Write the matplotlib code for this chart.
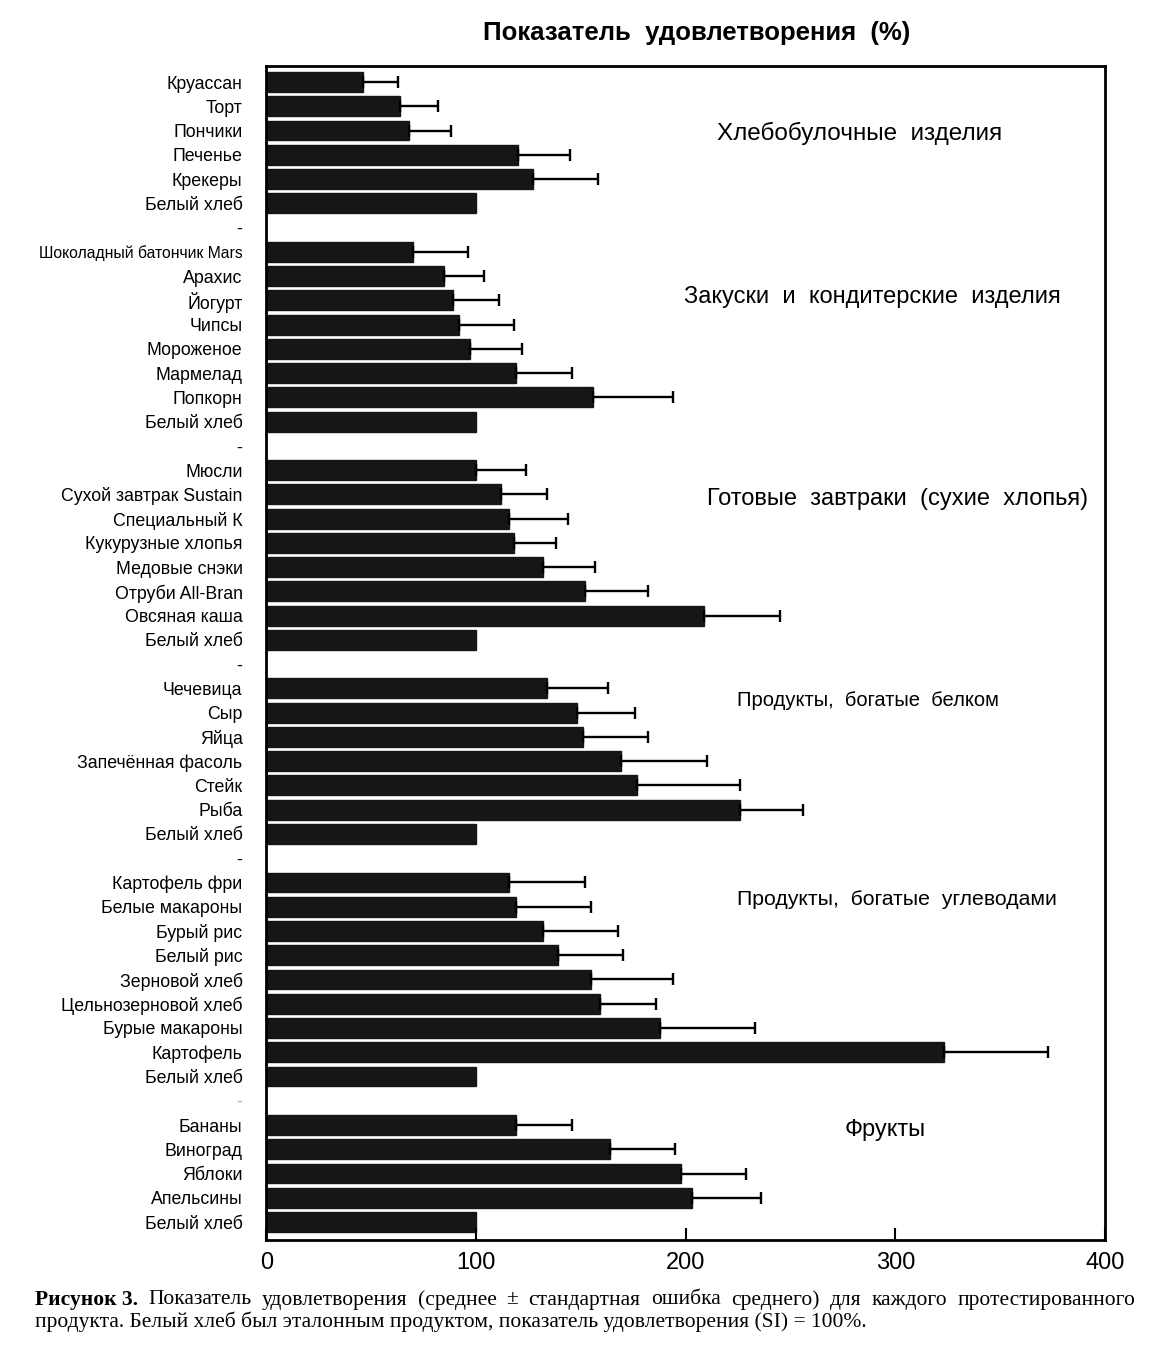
import matplotlib
matplotlib.use("Agg")
import matplotlib.pyplot as plt
import numpy as np

plt.rcParams['font.family'] = ['Liberation Sans', 'DejaVu Sans']

# --- data ---
bakery_labels = ["Круассан", "Торт", "Пончики", "Печенье", "Крекеры", "Белый хлеб"]
bakery_si = [46, 64, 68, 120, 127, 100]
bakery_err = [17, 18, 20, 25, 31, 0]

snack_labels = ["Шоколадный батончик Mars", "Арахис", "Йогурт", "Чипсы",
                "Мороженое", "Мармелад", "Попкорн", "Белый хлеб"]
snack_si = [70, 85, 89, 92, 97, 119, 156, 100]
snack_err = [26, 19, 22, 26, 25, 27, 38, 0]

cereal_labels = ["Мюсли", "Сухой завтрак Sustain", "Специальный К", "Кукурузные хлопья",
                 "Медовые снэки", "Отруби All-Bran", "Овсяная каша", "Белый хлеб"]
cereal_si = [100, 112, 116, 118, 132, 152, 209, 100]
cereal_err = [24, 22, 28, 20, 25, 30, 36, 0]

protein_labels = ["Чечевица", "Сыр", "Яйца", "Запечённая фасоль", "Стейк", "Рыба", "Белый хлеб"]
protein_si = [134, 148, 151, 169, 177, 226, 100]
protein_err = [29, 28, 31, 41, 49, 30, 0]

carb_labels = ["Картофель фри", "Белые макароны", "Бурый рис", "Белый рис", "Зерновой хлеб",
               "Цельнозерновой хлеб", "Бурые макароны", "Картофель", "Белый хлеб"]
carb_si = [116, 119, 132, 139, 155, 159, 188, 323, 100]
carb_err = [36, 36, 36, 31, 39, 27, 45, 50, 0]

fruit_labels = ["Бананы", "Виноград", "Яблоки", "Апельсины", "Белый хлеб"]
fruit_si = [119, 164, 198, 203, 100]
fruit_err = [27, 31, 31, 33, 0]

group_titles = ["Хлебобулочные  изделия", "Закуски  и  кондитерские  изделия",
                "Готовые  завтраки  (сухие  хлопья)", "Продукты,  богатые  белком",
                "Продукты,  богатые  углеводами", "Фрукты"]

groups = [(bakery_labels, bakery_si, bakery_err),
          (snack_labels, snack_si, snack_err),
          (cereal_labels, cereal_si, cereal_err),
          (protein_labels, protein_si, protein_err),
          (carb_labels, carb_si, carb_err),
          (fruit_labels, fruit_si, fruit_err)]

# build rows, with a "-" spacer row between groups
labels, vals, errs, rows = [], [], [], []
sep_rows = []
title_rows = []
r = 0
for gi, (lab, v, e) in enumerate(groups):
    title_rows.append(r)
    for l, vv, ee in zip(lab, v, e):
        labels.append(l)
        vals.append(vv)
        errs.append(ee)
        rows.append(r)
        r += 1
    if gi < len(groups) - 1:
        sep_rows.append(r)
        r += 1
nrows = r

fig = plt.figure(figsize=(11.65, 13.5), dpi=100)
ax = fig.add_axes([0.2285, 0.0815, 0.72, 0.8696])

ax.barh(rows, vals, height=0.82, color='#161616', edgecolor='#161616')
rows_e = [rr for rr, ee in zip(rows, errs) if ee > 0]
vals_e = [vv for vv, ee in zip(vals, errs) if ee > 0]
errs_e = [ee for ee in errs if ee > 0]
ax.errorbar(vals_e, rows_e, xerr=[np.zeros(len(errs_e)), errs_e], fmt='none',
            ecolor='black', elinewidth=1.7, capsize=4, capthick=1.7)

ax.set_xlim(0, 400)
ax.set_ylim(nrows - 1 + 0.74, -0.66)
ax.set_xticks([0, 100, 200, 300, 400])
ax.tick_params(axis='x', direction='in', length=9, width=1.5, labelsize=17, pad=9)

ytick_pos = rows + sep_rows
ytick_lab = labels + ['-'] * len(sep_rows)
ax.set_yticks(ytick_pos)
ax.set_yticklabels(ytick_lab, fontsize=12.8)
ax.tick_params(axis='y', length=0, pad=17)
for t in ax.get_yticklabels():
    if t.get_text() == "Шоколадный батончик Mars":
        t.set_fontsize(11.3)
ax.get_yticklabels()[-1].set_color('#aaaaaa')

for s in ax.spines.values():
    s.set_linewidth(2)

# group titles
title_x = [283, 289, 301, 287, 301, 295]
title_dy = [2.1, 1.85, 1.2, 0.5, 0.7, 0.2]
title_fs = [17.5, 17, 17, 14.5, 15.3, 17]
for tr, txt, tx, dy, fs in zip(title_rows, group_titles, title_x, title_dy, title_fs):
    ax.text(tx, tr + dy, txt, ha='center', va='center', fontsize=fs)

fig.text(0.598, 0.9756, "Показатель  удовлетворения  (%)", ha='center', va='center',
         fontsize=18.5, fontweight='bold')

# caption, first line justified
serif = ['Liberation Serif', 'DejaVu Serif']
cap_fs = 15.5
x0, x1 = 35 / 1165, 1135 / 1165
y1, y2 = 1 - 1300 / 1350, 1 - 1322 / 1350
words1 = ["Рисунок 3.", "Показатель", "удовлетворения", "(среднее", "±", "стандартная",
          "ошибка", "среднего)", "для", "каждого", "протестированного"]
fig.canvas.draw()
renderer = fig.canvas.get_renderer()
objs = []
for i, w in enumerate(words1):
    t = fig.text(0, y1, w, ha='left', va='center', fontsize=cap_fs, family=serif,
                 fontweight='bold' if i == 0 else 'normal')
    objs.append(t)
widths = [o.get_window_extent(renderer).width / fig.bbox.width for o in objs]
gap = (x1 - x0 - sum(widths)) / (len(words1) - 1)
xc = x0
for o, w in zip(objs, widths):
    o.set_x(xc)
    xc += w + gap
fig.text(x0, y2, "продукта. Белый хлеб был эталонным продуктом, показатель удовлетворения (SI) = 100%.",
         ha='left', va='center', fontsize=cap_fs, family=serif)

fig.savefig("out.png", dpi=100)
